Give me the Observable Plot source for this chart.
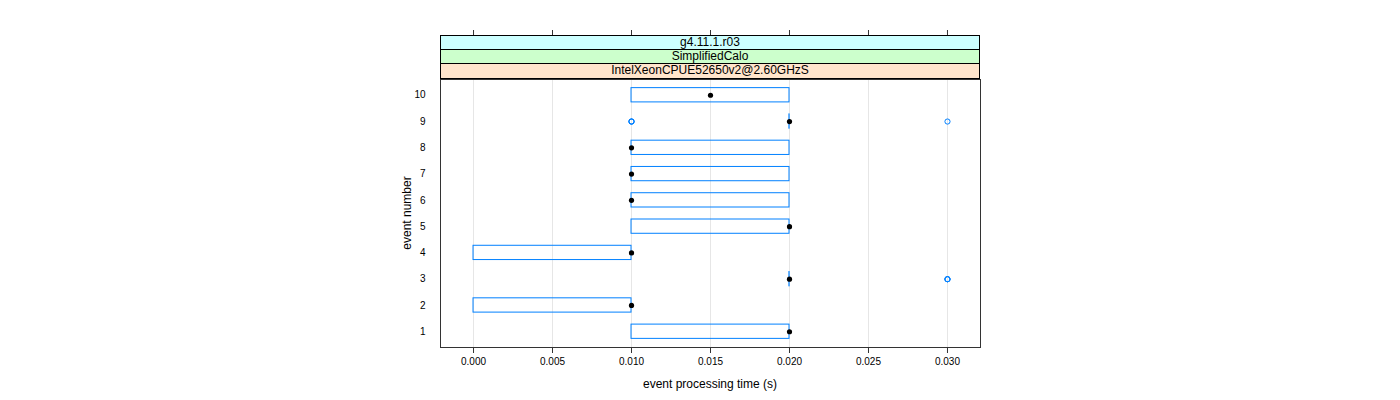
<!DOCTYPE html>
<html>
<head>
<meta charset="utf-8">
<script src="https://cdn.jsdelivr.net/npm/d3@7"></script>
<script src="https://cdn.jsdelivr.net/npm/@observablehq/plot@0.6"></script>
<style>
  html, body { margin: 0; padding: 0; background: #fff; }
  #wrap { position: relative; width: 1400px; height: 400px; font-family: "Liberation Sans", Arial, sans-serif; }
  #chart { position: absolute; left: 0; top: 0; }
  .strip { position: absolute; left: 440px; width: 538px; border: 1px solid #000; font-size: 12px; line-height: 13px; text-align: center; color: #000; box-sizing: content-box; }
  .lab { position: absolute; font-size: 12px; color: #000; white-space: nowrap; }
</style>
</head>
<body>
<div id="wrap">
  <div id="chart"></div>
</div>
<script>
// ---- data ----
const stripLabels = ["g4.11.1.r03", "SimplifiedCalo", "IntelXeonCPUE52650v2@2.60GHzS"];
const events  = [1, 2, 3, 4, 5, 6, 7, 8, 9, 10];
const q1      = [0.010, 0.000, 0.020, 0.000, 0.010, 0.010, 0.010, 0.010, 0.020, 0.010];
const q3      = [0.020, 0.010, 0.020, 0.010, 0.020, 0.020, 0.020, 0.020, 0.020, 0.020];
const medians = [0.020, 0.010, 0.020, 0.010, 0.020, 0.010, 0.010, 0.010, 0.020, 0.015];
const outlierEvents = [3, 3, 3, 9, 9, 9, 9];
const outlierTimes  = [0.030, 0.030, 0.030, 0.010, 0.010, 0.010, 0.030];
const xTicks = [0.000, 0.005, 0.010, 0.015, 0.020, 0.025, 0.030];
const xTickLabels = ["0.000", "0.005", "0.010", "0.015", "0.020", "0.025", "0.030"];

const boxes = events.map((e, i) => ({event: e, q1: q1[i], q3: q3[i], median: medians[i]}));
const outliers = outlierEvents.map((e, i) => ({event: e, t: outlierTimes[i]}));
const blue = "#0080ff";

const chart = Plot.plot({
  width: 1400,
  height: 400,
  marginLeft: 440,
  marginRight: 420,
  marginTop: 79,
  marginBottom: 53,
  style: {fontFamily: "'Liberation Sans', Arial, sans-serif", fontSize: "10px", color: "#000", background: "transparent"},
  x: {domain: [-0.00209, 0.03209]},
  y: {domain: [0.4, 10.6]},
  marks: [
    Plot.gridX(xTicks, {stroke: "#e6e6e6", strokeOpacity: 1}),
    Plot.rect(boxes, {x1: "q1", x2: "q3", y1: d => d.event - 0.5, y2: d => d.event + 0.5, insetTop: 6, insetBottom: 6, fill: "none", stroke: blue, strokeWidth: 1}),
    // zero-width boxes collapse to a vertical blue segment
    Plot.rect(boxes.filter(d => d.q1 === d.q3), {x1: "q1", x2: "q3", y1: d => d.event - 0.5, y2: d => d.event + 0.5, insetTop: 5.5, insetBottom: 5.5, insetLeft: -0.6, insetRight: -0.6, fill: blue, stroke: "none"}),
    Plot.dot(outliers, {x: "t", y: "event", r: 2.6, stroke: blue, strokeWidth: 1, fill: "none"}),
    Plot.dot(boxes, {x: "median", y: "event", r: 2.6, fill: "#000", stroke: "none"}),
    Plot.frame({stroke: "#333", strokeWidth: 1}),
    Plot.axisX(xTicks, {anchor: "bottom", tickSize: 6, tickPadding: 4, tickFormat: (d, i) => xTickLabels[i], label: null, stroke: "#333", fontSize: 10}),
    Plot.axisX(xTicks, {anchor: "top", tickSize: 6, tickFormat: () => "", label: null, dy: -44, stroke: "#333"}),
    Plot.axisY(events, {anchor: "left", tickSize: 0, tickPadding: 15, tickFormat: d => String(d), label: null, fontSize: 10})
  ]
});
document.getElementById("chart").appendChild(chart);

// strips (top to bottom)
const wrap = document.getElementById("wrap");
const stripColors = ["#ccffff", "#ccffcc", "#ffe5cc"];
const stripTops = [35, 49, 63];
stripLabels.forEach((s, i) => {
  const d = document.createElement("div");
  d.className = "strip";
  d.style.top = stripTops[i] + "px";
  d.style.height = (i === 2 ? 14 : 13) + "px";
  d.style.background = stripColors[i];
  d.textContent = s;
  wrap.appendChild(d);
});

// axis titles
const xl = document.createElement("div");
xl.className = "lab";
xl.textContent = "event processing time (s)";
xl.style.left = "710px"; xl.style.top = "377px"; xl.style.transform = "translateX(-50%)";
wrap.appendChild(xl);

const yl = document.createElement("div");
yl.className = "lab";
yl.textContent = "event number";
yl.style.left = "407px"; yl.style.top = "213px"; yl.style.transform = "translate(-50%, -50%) rotate(-90deg)";
wrap.appendChild(yl);
</script>
</body>
</html>
